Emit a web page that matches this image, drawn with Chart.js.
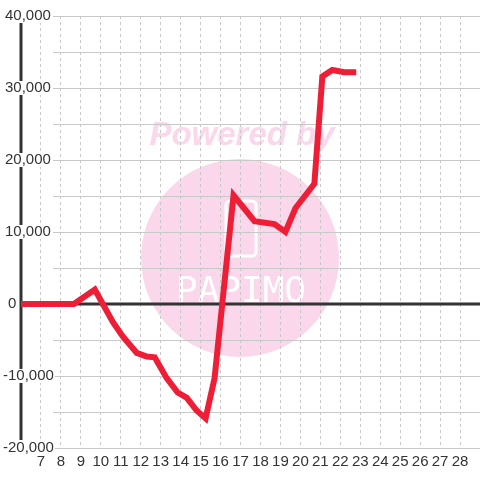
<!DOCTYPE html>
<html lang="en">
<head>
<meta charset="UTF-8">
<title>Balance</title>
<script src="https://cdn.jsdelivr.net/npm/chart.js"></script>
<style>
  html, body { margin: 0; padding: 0; background: #fff; }
  #wrap { width: 480px; height: 480px; }
</style>
</head>
<body>
<div id="wrap"><canvas id="balanceChart"></canvas></div>
<script>
// day of month (x) and running balance (y)
const days = [6, 8.65, 9.7, 10.6, 11.1, 11.8, 12.3, 12.7, 13.3, 13.85, 14.3, 14.8, 15.25,
              15.7, 16.65, 17.7, 18.7, 19.25, 19.75, 20.7, 21.1, 21.6, 22.2, 22.8];
const balance = [0, 0, 2000, -2500, -4500, -6800, -7300, -7400, -10300, -12300, -13000, -14800, -15900,
                 -10300, 15100, 11500, 11100, 10000, 13300, 16700, 31600, 32500, 32200, 32200];
const xRange = [6, 29];          // labels shown for 7..28
const yRange = [-20000, 40000];
const yStep = 5000;
const yLabelStep = 10000;

const points = days.map((d, i) => ({ x: d, y: balance[i] }));
const labelFont = '15px "Liberation Sans", Arial, sans-serif';

// pink "Powered by" stamp behind the plot
const watermark = {
  id: 'watermark',
  beforeDraw(chart) {
    const ctx = chart.ctx;
    ctx.save();
    ctx.fillStyle = '#fbd7eb';
    ctx.beginPath();
    ctx.arc(240, 258, 99, 0, Math.PI * 2);
    ctx.fill();
    ctx.font = 'italic bold 33px "Liberation Sans", Arial, sans-serif';
    ctx.textAlign = 'center';
    ctx.textBaseline = 'alphabetic';
    ctx.fillText('Powered by', 242, 145);
    ctx.strokeStyle = '#fff';
    ctx.lineWidth = 3;
    ctx.beginPath();
    ctx.roundRect(226, 201, 30, 55, 4);
    ctx.stroke();
    ctx.fillStyle = '#fff';
    ctx.font = '36px "DejaVu Sans Mono", monospace';
    ctx.fillText('PAPIMO', 241, 302);
    ctx.restore();
  }
};

// horizontal grid starts right of the labels; zero line and y axis in dark
const axes = {
  id: 'axes',
  beforeDatasetsDraw(chart) {
    const { ctx, chartArea, scales: { x, y } } = chart;
    ctx.save();
    y.ticks.forEach(t => {
      const py = Math.round(y.getPixelForValue(t.value));
      ctx.beginPath();
      if (t.value === 0) {
        ctx.strokeStyle = '#333';
        ctx.lineWidth = 3;
        ctx.moveTo(chartArea.left, py);
        ctx.lineTo(chartArea.right, py);
      } else {
        ctx.strokeStyle = '#c8c8c8';
        ctx.lineWidth = 1;
        ctx.moveTo(chartArea.left + 32, py + 0.5);
        ctx.lineTo(chartArea.right, py + 0.5);
      }
      ctx.stroke();
    });
    const ax = Math.round(x.getPixelForValue(xRange[0]));
    ctx.strokeStyle = '#333';
    ctx.lineWidth = 3;
    ctx.beginPath();
    ctx.moveTo(ax, chartArea.top + 6);
    ctx.lineTo(ax, chartArea.bottom - 8);
    ctx.stroke();

    ctx.font = labelFont;
    ctx.textAlign = 'left';
    ctx.textBaseline = 'middle';
    y.ticks.forEach(t => {
      if (t.value % yLabelStep !== 0) return;
      const text = t.value.toLocaleString('en-US');
      const py = y.getPixelForValue(t.value);
      const lx = t.value < 0 ? 3 : (t.value === 0 ? 8 : 5);
      const w = ctx.measureText(text).width;
      ctx.fillStyle = '#fff';
      ctx.fillRect(lx - 1, py - 7, w + 2, 14);
      ctx.fillStyle = '#333';
      ctx.fillText(text, lx, py);
    });
    ctx.restore();
  }
};

new Chart(document.getElementById('balanceChart'), {
  type: 'line',
  data: {
    datasets: [{
      data: points,
      borderColor: '#ee1e37',
      borderWidth: 6,
      pointRadius: 0,
      tension: 0,
      fill: false
    }]
  },
  options: {
    responsive: true,
    maintainAspectRatio: false,
    animation: false,
    layout: { padding: { left: 21, top: 16, right: 0, bottom: 4 } },
    plugins: { legend: { display: false }, tooltip: { enabled: false } },
    scales: {
      x: {
        type: 'linear',
        min: xRange[0],
        max: xRange[1],
        grid: { color: '#c8c8c8', drawTicks: false, lineWidth: 1 },
        border: { display: false, dash: [3, 3] },
        ticks: {
          stepSize: 1,
          autoSkip: false,
          maxRotation: 0,
          padding: 0,
          color: '#333',
          font: { family: '"Liberation Sans", Arial, sans-serif', size: 15, lineHeight: 1.87 },
          callback: v => (v > xRange[0] && v < xRange[1]) ? String(v) : ''
        }
      },
      y: {
        min: yRange[0],
        max: yRange[1],
        afterFit: s => { s.width = 0; },
        grid: { display: false, drawTicks: false },
        border: { display: false },
        ticks: { stepSize: yStep, display: false }
      }
    }
  },
  plugins: [watermark, axes]
});
</script>
</body>
</html>
